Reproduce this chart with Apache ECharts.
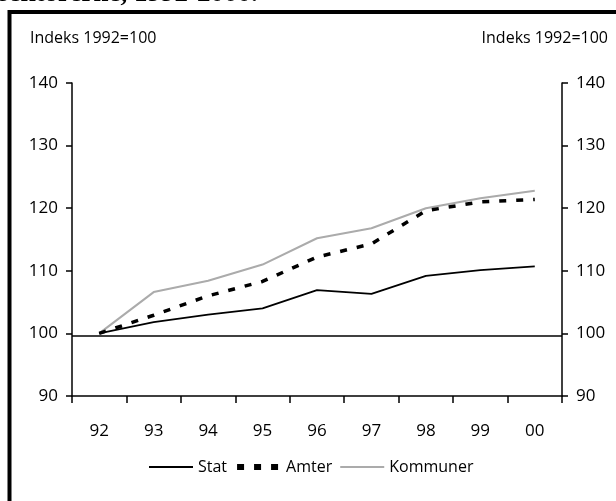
<!DOCTYPE html>
<html><head><meta charset="utf-8">
<script src="https://cdn.jsdelivr.net/npm/echarts@6/dist/echarts.min.js"></script>
<style>html,body{margin:0;padding:0;background:#fff}#c{width:616px;height:501px}</style>
</head><body><div id="c"></div>
<script>
const categories = ['92','93','94','95','96','97','98','99','00'];
const stat      = [100, 101.8, 103.0, 104.0, 106.9, 106.3, 109.2, 110.1, 110.7];
const amter     = [100, 102.9, 106.0, 108.3, 112.2, 114.3, 119.6, 121.0, 121.4];
const kommuner  = [100, 106.6, 108.4, 111.0, 115.2, 116.8, 120.0, 121.6, 122.8];
const yTicks = {min: 90, max: 140, interval: 10};
const baseLine = 99.6;
const unitLabel = 'Indeks 1992=100';
const titleText = 'sektorerne, 1992-2000.';

const FONT = 'Open Sans';
const chart = echarts.init(document.getElementById('c'), null, {renderer: 'canvas'});
const yAxisCommon = {
  type: 'value', min: yTicks.min, max: yTicks.max, interval: yTicks.interval,
  splitLine: {show: false},
  axisLine: {show: true, lineStyle: {color: '#000', width: 1.5}},
  axisTick: {show: true, length: 6, lineStyle: {color: '#000', width: 1.5}},
  axisLabel: {color: '#000', fontFamily: FONT, fontSize: 17, margin: 14}
};
chart.setOption({
  animation: false,
  backgroundColor: '#fff',
  grid: {left: 72, right: 54, top: 83, bottom: 105, containLabel: false},
  title: [
    {text: unitLabel, left: 30, top: 30, padding: 0, textStyle: {fontFamily: FONT, fontSize: 16, fontWeight: 'normal', color: '#000'}},
    {text: unitLabel, right: 8, top: 30, padding: 0, textStyle: {fontFamily: FONT, fontSize: 16, fontWeight: 'normal', color: '#000'}}
  ],
  graphic: [
    {type: 'rect', shape: {x: 9.5, y: 12, width: 800, height: 800}, style: {fill: 'none', stroke: '#000', lineWidth: 4}, silent: true},
    {type: 'text', x: -2, y: -6, style: {text: titleText, font: 'bold 27px "Liberation Serif"', fill: '#000', verticalAlign: 'middle', align: 'left'}, silent: true}
  ],
  legend: {
    left: 148, top: 459, itemWidth: 44, itemHeight: 14, itemGap: 7, padding: 0,
    itemStyle: {opacity: 0},
    textStyle: {fontFamily: FONT, fontSize: 16, color: '#000', padding: [0, 0, 0, 0]},
    data: [
      {name: 'Stat', itemStyle: {opacity: 0}, lineStyle: {color: '#000', width: 2, type: 'solid'}},
      {name: 'Amter', itemStyle: {opacity: 0}, lineStyle: {color: '#000', width: 6, type: [7, 10]}},
      {name: 'Kommuner', itemStyle: {opacity: 0}, lineStyle: {color: '#ababab', width: 2, type: 'solid'}}
    ]
  },
  xAxis: {
    type: 'category', data: categories, boundaryGap: true,
    axisLine: {onZero: false, lineStyle: {color: '#000', width: 1.5}},
    axisTick: {show: true, interval: 0, length: 7, lineStyle: {color: '#000', width: 1.5}},
    axisLabel: {color: '#000', fontFamily: FONT, fontSize: 17, margin: 27, interval: 0}
  },
  yAxis: [
    Object.assign({position: 'left'}, yAxisCommon),
    Object.assign({position: 'right'}, yAxisCommon)
  ],
  series: [
    {name: 'Stat', type: 'line', data: stat, symbol: 'none', lineStyle: {color: '#000', width: 1.8}, itemStyle: {color: '#000'}, z: 4,
     markLine: {silent: true, symbol: 'none', label: {show: false}, lineStyle: {color: '#000', width: 1.5, type: 'solid'}, data: [{yAxis: baseLine}]}},
    {name: 'Amter', type: 'line', data: amter, symbol: 'none', lineStyle: {color: '#000', width: 3.5, type: [7, 10]}, itemStyle: {color: '#000'}, z: 3},
    {name: 'Kommuner', type: 'line', data: kommuner, symbol: 'none', lineStyle: {color: '#ababab', width: 2}, itemStyle: {color: '#ababab'}, z: 2}
  ]
});
</script></body></html>
